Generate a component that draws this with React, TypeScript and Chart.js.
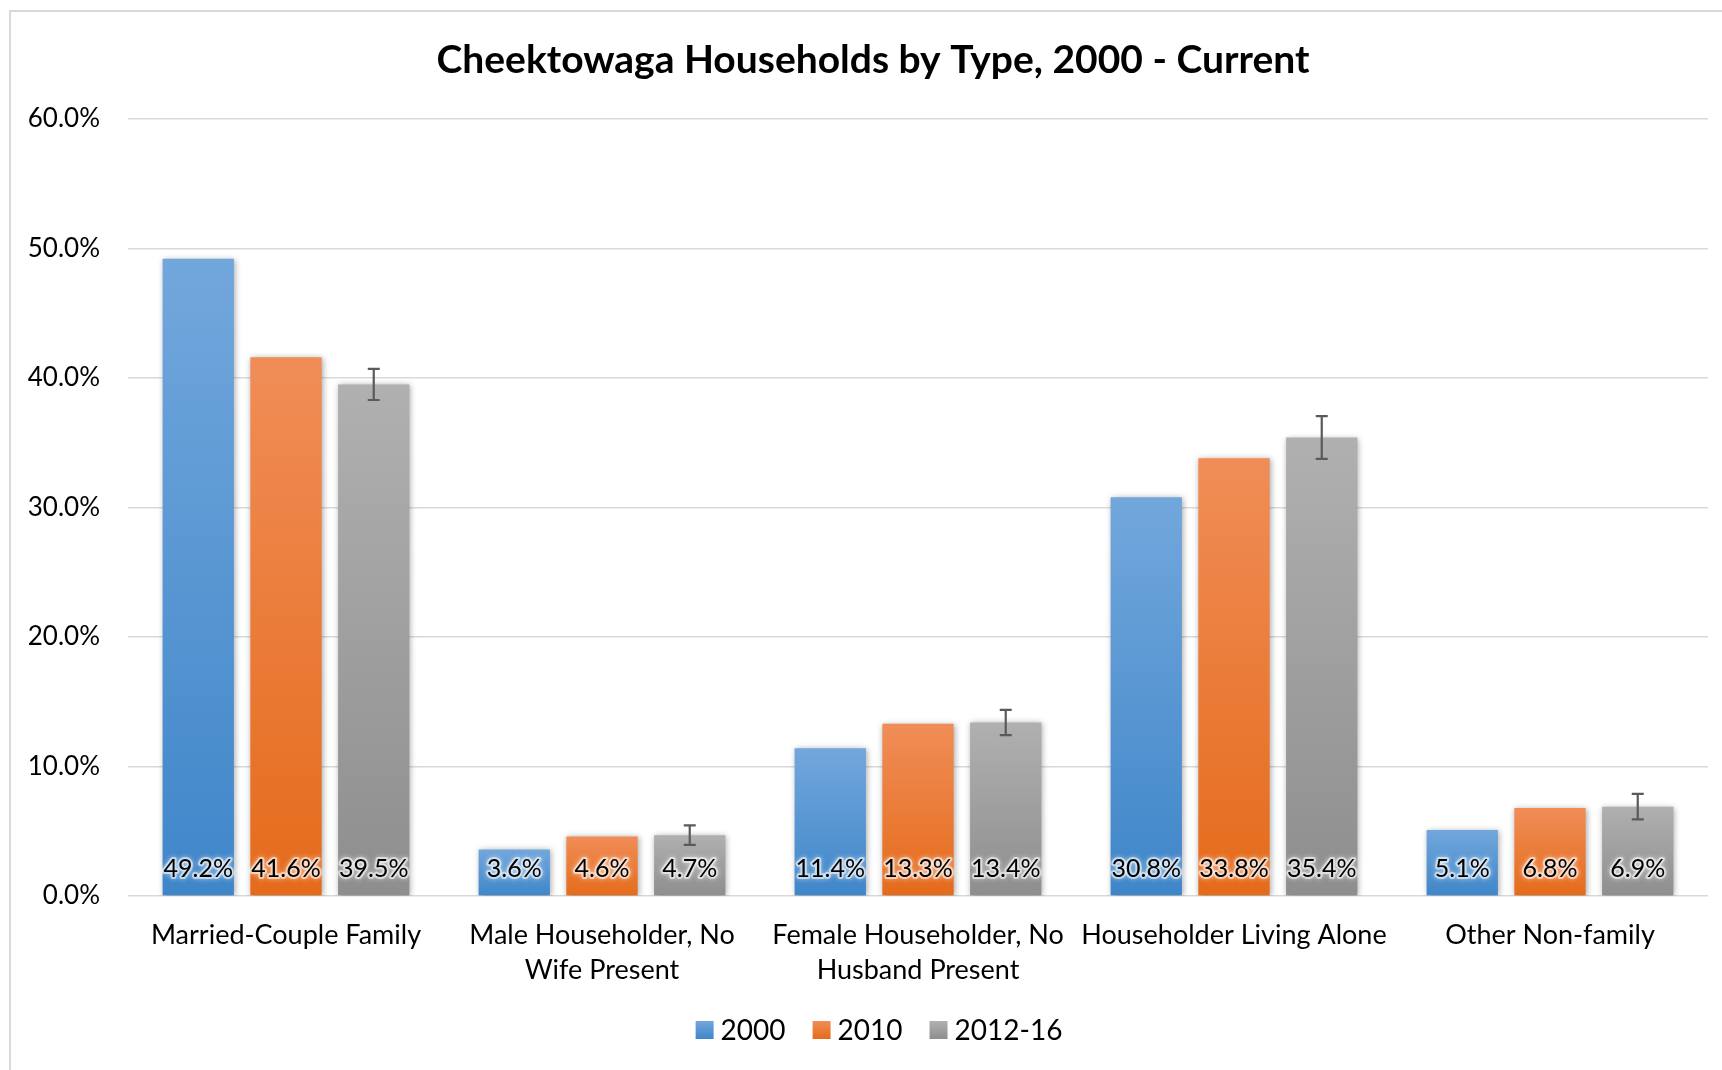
import React, { useEffect, useRef } from "react";
import { Chart, registerables } from "chart.js";

Chart.register(...registerables);

const categories: (string | string[])[] = [
  "Married-Couple Family",
  ["Male Householder, No", "Wife Present"],
  ["Female Householder, No", "Husband Present"],
  "Householder Living Alone",
  "Other Non-family",
];
const series2000 = [49.2, 3.6, 11.4, 30.8, 5.1];
const series2010 = [41.6, 4.6, 13.3, 33.8, 6.8];
const series2012 = [39.5, 4.7, 13.4, 35.4, 6.9];
const errors2012 = [1.2, 0.75, 0.97, 1.65, 0.99];
const seriesNames = ["2000", "2010", "2012-16"];
const yTicks = [0, 10, 20, 30, 40, 50, 60];
const titleText = "Cheektowaga Households by Type, 2000 - Current";

const FONT = "Lato, 'Open Sans', sans-serif";

const gradStops = [
  ["#72a7dc", "#3f86c9"],
  ["#f08d57", "#e56b1b"],
  ["#b0b0b0", "#8e8e8e"],
];
const solid = ["#5b9bd5", "#ed7d31", "#a5a5a5"];

function barGradient(dsIndex: number) {
  return (ctx: any) => {
    const chart = ctx.chart;
    const area = chart.chartArea;
    if (!area || ctx.type !== "data") return solid[dsIndex];
    const y = chart.scales.y;
    const v = ctx.raw as number;
    const top = y.getPixelForValue(v);
    const bottom = y.getPixelForValue(0);
    if (!isFinite(top) || !isFinite(bottom) || top === bottom) return solid[dsIndex];
    const g = chart.ctx.createLinearGradient(0, top, 0, bottom);
    g.addColorStop(0, gradStops[dsIndex][0]);
    g.addColorStop(1, gradStops[dsIndex][1]);
    return g;
  };
}

const shadowPlugin = {
  id: "barShadow",
  beforeDatasetsDraw(chart: any) {
    const c = chart.ctx;
    c.save();
    c.shadowColor = "rgba(0,0,0,0.35)";
    c.shadowBlur = 6;
    c.shadowOffsetX = 1;
    c.shadowOffsetY = 1;
  },
  afterDatasetsDraw(chart: any) {
    chart.ctx.restore();
  },
};

const overlayPlugin = {
  id: "overlay",
  afterDatasetsDraw(chart: any) {
    const c = chart.ctx;
    const yScale = chart.scales.y;
    // error bars on 2012-16
    const meta2 = chart.getDatasetMeta(2);
    c.save();
    c.strokeStyle = "#5a5a5a";
    c.lineWidth = 2.2;
    meta2.data.forEach((bar: any, i: number) => {
      const v = series2012[i];
      const e = errors2012[i];
      const x = bar.x;
      const yt = yScale.getPixelForValue(v + e);
      const yb = yScale.getPixelForValue(v - e);
      c.beginPath();
      c.moveTo(x, yt);
      c.lineTo(x, yb);
      c.moveTo(x - 6, yt);
      c.lineTo(x + 6, yt);
      c.moveTo(x - 6, yb);
      c.lineTo(x + 6, yb);
      c.stroke();
    });
    c.restore();

    // data labels with glow
    const base = yScale.getPixelForValue(0);
    c.save();
    c.font = `25px ${FONT}`;
    c.textAlign = "center";
    c.textBaseline = "middle";
    chart.data.datasets.forEach((ds: any, di: number) => {
      const meta = chart.getDatasetMeta(di);
      meta.data.forEach((bar: any, i: number) => {
        const txt = (ds.data[i] as number).toFixed(1) + "%";
        const y = base - 27;
        c.save();
        c.shadowColor = "rgba(255,255,255,0.9)";
        c.shadowBlur = 5;
        c.lineJoin = "round";
        c.strokeStyle = "rgba(255,255,255,0.55)";
        c.lineWidth = 4;
        c.strokeText(txt, bar.x, y);
        c.restore();
        c.fillStyle = "#000000";
        c.fillText(txt, bar.x, y);
      });
    });
    c.restore();

    // title
    c.save();
    c.font = `bold 39px ${FONT}`;
    c.fillStyle = "#000000";
    c.textAlign = "center";
    c.textBaseline = "middle";
    c.fillText(titleText, 873, 60);
    c.restore();

    // legend
    c.save();
    c.font = `28px ${FONT}`;
    c.textBaseline = "middle";
    c.textAlign = "left";
    const box = 18;
    const gapText = 7;
    const gapItem = 27;
    const widths = seriesNames.map((n) => c.measureText(n).width);
    const total =
      widths.reduce((a, w) => a + box + gapText + w, 0) + gapItem * (seriesNames.length - 1);
    let x = 879 - total / 2;
    const cy = 1030;
    seriesNames.forEach((n, i) => {
      const g = c.createLinearGradient(0, cy - box / 2, 0, cy + box / 2);
      g.addColorStop(0, gradStops[i][0]);
      g.addColorStop(1, gradStops[i][1]);
      c.fillStyle = g;
      c.fillRect(x, cy - box / 2, box, box);
      x += box + gapText;
      c.fillStyle = "#000000";
      c.fillText(n, x, cy + 1);
      x += widths[i] + gapItem;
    });
    c.restore();
  },
};

export default function App() {
  const ref = useRef<HTMLCanvasElement | null>(null);
  useEffect(() => {
    if (!ref.current) return;
    const datasets = [series2000, series2010, series2012].map((d, i) => ({
      label: seriesNames[i],
      data: d,
      backgroundColor: barGradient(i),
      borderWidth: 0,
      categoryPercentage: 0.833,
      barPercentage: 0.8125,
    }));
    const chart = new Chart(ref.current, {
      type: "bar",
      data: { labels: categories, datasets },
      options: {
        responsive: false,
        animation: false,
        devicePixelRatio: 1,
        layout: { padding: { left: 0, right: 1746 - 1708, top: 119, bottom: 64 } },
        plugins: {
          title: { display: false },
          tooltip: { enabled: false },
          legend: { display: false },
        },
        scales: {
          x: {
            grid: { display: false, drawTicks: false },
            border: { display: false },
            ticks: {
              font: { family: FONT, size: 27, lineHeight: 1.3 },
              color: "#000000",
              padding: 22,
              maxRotation: 0,
              autoSkip: false,
            },
            afterFit: (s: any) => {
              s.height = 110;
            },
          },
          y: {
            min: 0,
            max: 60,
            afterBuildTicks: (s: any) => {
              s.ticks = yTicks.map((v) => ({ value: v }));
            },
            grid: { color: "#d9d9d9", lineWidth: 1.5, drawTicks: false },
            border: { display: false },
            ticks: {
              font: { family: FONT, size: 26 },
              color: "#000000",
              padding: 28,
              callback: (v: any) => Number(v).toFixed(1) + "%",
            },
            afterFit: (s: any) => {
              s.width = 128;
            },
          },
        },
      },
      plugins: [shadowPlugin, overlayPlugin],
    });
    return () => chart.destroy();
  }, []);
  return (
    <div>
      <div
        style={{
          position: "fixed",
          left: 9,
          top: 10,
          width: 1800,
          height: 1200,
          border: "2px solid #d9d9d9",
          boxSizing: "border-box",
          background: "#ffffff",
        }}
      />
      <canvas
        ref={ref}
        width={1746}
        height={1070}
        style={{ position: "fixed", left: 0, top: 0, width: 1746, height: 1070 }}
      />
    </div>
  );
}
